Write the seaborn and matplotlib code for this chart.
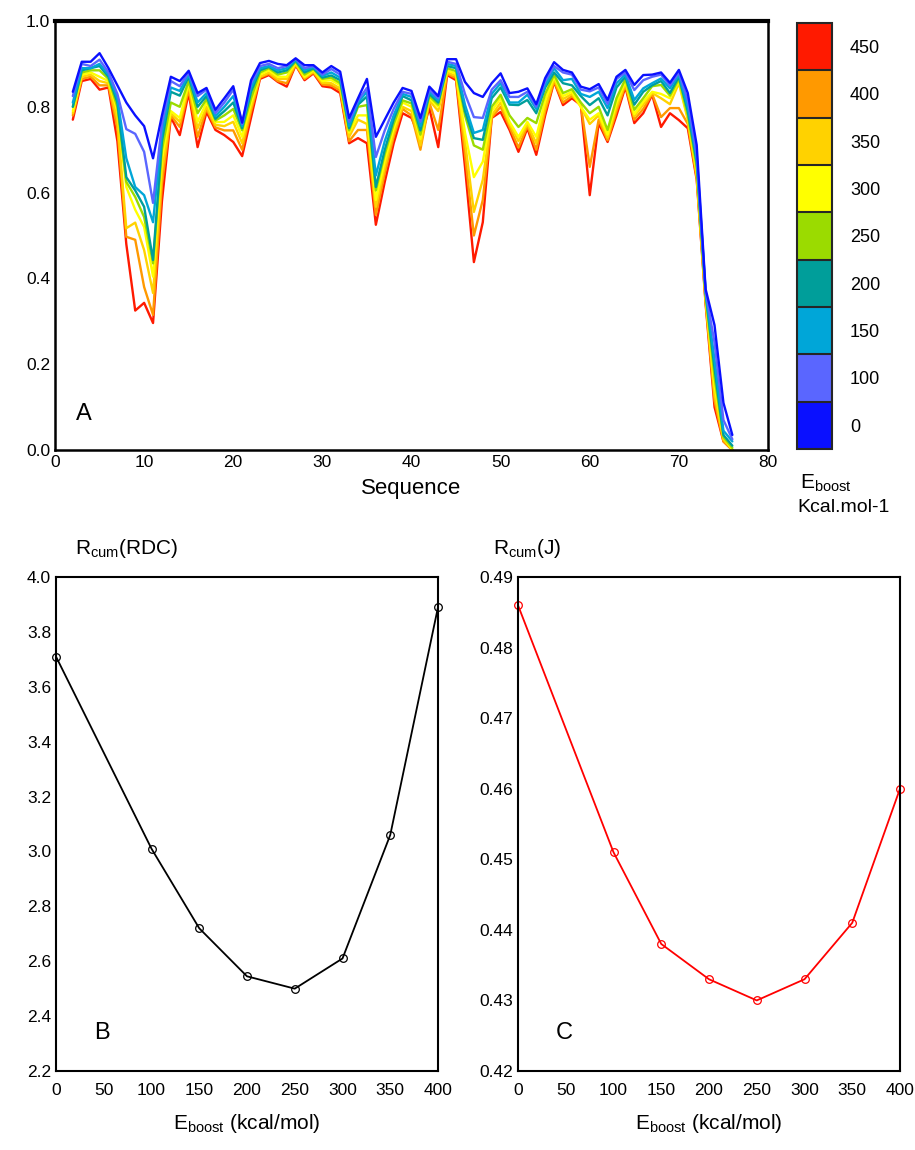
import numpy as np
import pandas as pd
import matplotlib
matplotlib.use('Agg')
import matplotlib.pyplot as plt
import seaborn as sns
from matplotlib.colors import ListedColormap, BoundaryNorm
from matplotlib.cm import ScalarMappable
from matplotlib.ticker import MultipleLocator

# ---- data ----
residues = list(range(2, 77))

e0 = [0.835, 0.905, 0.905, 0.925, 0.89, 0.85, 0.81, 0.78, 0.755, 0.68,
      0.78, 0.87, 0.86, 0.884, 0.832, 0.844, 0.793, 0.82, 0.848, 0.763,
      0.862, 0.902, 0.907, 0.90, 0.897, 0.913, 0.897, 0.897, 0.88, 0.895,
      0.882, 0.774, 0.82, 0.865, 0.73, 0.77, 0.81, 0.844, 0.837, 0.774,
      0.847, 0.825, 0.911, 0.911, 0.858, 0.832, 0.823, 0.855, 0.878, 0.832,
      0.835, 0.843, 0.806, 0.867, 0.904, 0.886, 0.88, 0.847, 0.841, 0.853,
      0.816, 0.87, 0.886, 0.851, 0.874, 0.875, 0.88, 0.856, 0.886, 0.832,
      0.711, 0.375, 0.291, 0.11, 0.035]
e100 = [0.825, 0.90, 0.895, 0.91, 0.88, 0.83, 0.748, 0.737, 0.695, 0.576,
        0.76, 0.86, 0.848, 0.88, 0.825, 0.84, 0.785, 0.81, 0.84, 0.76,
        0.855, 0.895, 0.90, 0.89, 0.895, 0.912, 0.89, 0.895, 0.875, 0.888,
        0.875, 0.765, 0.815, 0.844, 0.683, 0.745, 0.795, 0.835, 0.83, 0.765,
        0.84, 0.82, 0.905, 0.90, 0.83, 0.776, 0.774, 0.84, 0.862, 0.823,
        0.823, 0.835, 0.80, 0.86, 0.895, 0.88, 0.875, 0.84, 0.836, 0.845,
        0.807, 0.865, 0.88, 0.839, 0.862, 0.87, 0.875, 0.85, 0.88, 0.815,
        0.69, 0.37, 0.25, 0.07, 0.025]
e150 = [0.81, 0.89, 0.89, 0.90, 0.875, 0.82, 0.68, 0.613, 0.594, 0.531,
        0.74, 0.845, 0.837, 0.875, 0.81, 0.832, 0.778, 0.80, 0.825, 0.755,
        0.845, 0.89, 0.895, 0.885, 0.89, 0.91, 0.885, 0.893, 0.872, 0.88,
        0.868, 0.755, 0.81, 0.835, 0.64, 0.72, 0.78, 0.83, 0.823, 0.755,
        0.835, 0.815, 0.90, 0.895, 0.805, 0.739, 0.746, 0.83, 0.855, 0.81,
        0.81, 0.828, 0.795, 0.85, 0.89, 0.862, 0.865, 0.83, 0.823, 0.835,
        0.797, 0.855, 0.875, 0.816, 0.843, 0.855, 0.866, 0.843, 0.875, 0.80,
        0.68, 0.37, 0.21, 0.045, 0.02]
e200 = [0.80, 0.885, 0.89, 0.895, 0.87, 0.81, 0.636, 0.605, 0.567, 0.443,
        0.72, 0.835, 0.826, 0.87, 0.80, 0.825, 0.772, 0.79, 0.81, 0.75,
        0.835, 0.885, 0.893, 0.88, 0.885, 0.908, 0.88, 0.89, 0.868, 0.873,
        0.862, 0.75, 0.805, 0.824, 0.613, 0.70, 0.77, 0.825, 0.815, 0.745,
        0.83, 0.81, 0.895, 0.89, 0.79, 0.727, 0.723, 0.82, 0.845, 0.805,
        0.804, 0.816, 0.785, 0.845, 0.88, 0.855, 0.85, 0.825, 0.804, 0.82,
        0.78, 0.845, 0.87, 0.805, 0.835, 0.85, 0.86, 0.832, 0.87, 0.79,
        0.67, 0.365, 0.19, 0.035, 0.01]
e250 = [0.80, 0.88, 0.885, 0.885, 0.865, 0.80, 0.625, 0.59, 0.543, 0.435,
        0.70, 0.81, 0.80, 0.86, 0.785, 0.818, 0.768, 0.78, 0.795, 0.745,
        0.82, 0.88, 0.89, 0.875, 0.88, 0.905, 0.875, 0.888, 0.865, 0.868,
        0.855, 0.745, 0.80, 0.804, 0.605, 0.69, 0.76, 0.815, 0.808, 0.735,
        0.825, 0.805, 0.89, 0.883, 0.78, 0.71, 0.70, 0.80, 0.828, 0.78,
        0.753, 0.774, 0.762, 0.83, 0.875, 0.832, 0.841, 0.81, 0.785, 0.80,
        0.746, 0.82, 0.865, 0.793, 0.82, 0.848, 0.851, 0.826, 0.865, 0.78,
        0.66, 0.36, 0.17, 0.03, 0.005]
e300 = [0.79, 0.875, 0.88, 0.87, 0.86, 0.79, 0.613, 0.56, 0.52, 0.404,
        0.68, 0.79, 0.774, 0.855, 0.765, 0.81, 0.764, 0.765, 0.78, 0.73,
        0.81, 0.875, 0.885, 0.87, 0.87, 0.903, 0.87, 0.885, 0.86, 0.862,
        0.85, 0.74, 0.78, 0.78, 0.583, 0.675, 0.75, 0.81, 0.80, 0.725,
        0.82, 0.80, 0.885, 0.877, 0.74, 0.636, 0.672, 0.79, 0.82, 0.765,
        0.73, 0.765, 0.73, 0.815, 0.87, 0.825, 0.835, 0.80, 0.77, 0.785,
        0.735, 0.81, 0.86, 0.783, 0.812, 0.835, 0.83, 0.82, 0.86, 0.775,
        0.65, 0.355, 0.15, 0.03, 0.0]
e350 = [0.785, 0.87, 0.875, 0.86, 0.855, 0.77, 0.517, 0.53, 0.466, 0.366,
        0.65, 0.785, 0.765, 0.85, 0.75, 0.80, 0.758, 0.755, 0.765, 0.715,
        0.80, 0.87, 0.88, 0.865, 0.865, 0.90, 0.868, 0.882, 0.856, 0.855,
        0.843, 0.73, 0.77, 0.76, 0.567, 0.66, 0.74, 0.80, 0.79, 0.71,
        0.815, 0.79, 0.88, 0.872, 0.72, 0.555, 0.63, 0.78, 0.81, 0.76,
        0.72, 0.76, 0.715, 0.80, 0.865, 0.818, 0.83, 0.80, 0.76, 0.78,
        0.728, 0.80, 0.855, 0.778, 0.805, 0.832, 0.82, 0.806, 0.855, 0.77,
        0.64, 0.35, 0.13, 0.025, 0.0]
e400 = [0.78, 0.865, 0.87, 0.85, 0.85, 0.75, 0.497, 0.49, 0.38, 0.315,
        0.62, 0.78, 0.753, 0.84, 0.73, 0.795, 0.752, 0.745, 0.745, 0.70,
        0.79, 0.868, 0.877, 0.86, 0.855, 0.898, 0.865, 0.88, 0.852, 0.85,
        0.838, 0.72, 0.746, 0.746, 0.548, 0.645, 0.73, 0.795, 0.78, 0.70,
        0.81, 0.746, 0.877, 0.867, 0.69, 0.50, 0.583, 0.775, 0.80, 0.753,
        0.705, 0.755, 0.70, 0.79, 0.86, 0.81, 0.825, 0.805, 0.66, 0.77,
        0.722, 0.79, 0.85, 0.77, 0.795, 0.83, 0.776, 0.797, 0.797, 0.76,
        0.635, 0.345, 0.115, 0.02, 0.0]
e450 = [0.77, 0.86, 0.865, 0.84, 0.845, 0.72, 0.48, 0.325, 0.343, 0.296,
        0.58, 0.776, 0.734, 0.832, 0.706, 0.788, 0.746, 0.734, 0.718, 0.685,
        0.775, 0.865, 0.874, 0.858, 0.847, 0.897, 0.862, 0.878, 0.848, 0.845,
        0.832, 0.715, 0.727, 0.715, 0.525, 0.625, 0.715, 0.785, 0.774, 0.725,
        0.797, 0.706, 0.874, 0.862, 0.66, 0.438, 0.531, 0.774, 0.788, 0.746,
        0.695, 0.75, 0.688, 0.78, 0.858, 0.804, 0.82, 0.804, 0.594, 0.762,
        0.718, 0.78, 0.846, 0.762, 0.785, 0.828, 0.753, 0.785, 0.769, 0.75,
        0.63, 0.34, 0.10, 0.02, 0.0]

boost_levels = [0, 100, 150, 200, 250, 300, 350, 400, 450]
level_colors = ['#0A10FF', '#5A66FF', '#00A6D8', '#009E9A', '#9BDB00',
                '#FFFF00', '#FFD200', '#FF9900', '#FF1A00']

eboost = [0, 100, 150, 200, 250, 300, 350, 400]
rcum_rdc = [3.71, 3.01, 2.72, 2.545, 2.50, 2.61, 3.06, 3.89]
rcum_j = [0.486, 0.451, 0.438, 0.433, 0.430, 0.433, 0.441, 0.460]

series = [e0, e100, e150, e200, e250, e300, e350, e400, e450]
df = pd.concat([pd.DataFrame({'residue': residues, 'S2': s, 'E': lvl})
                for s, lvl in zip(series, boost_levels)], ignore_index=True)

sns.set_style('white')
plt.rcParams['font.family'] = ['Liberation Sans', 'DejaVu Sans']
plt.rcParams['mathtext.fontset'] = 'custom'
plt.rcParams['mathtext.rm'] = 'Liberation Sans'
plt.rcParams['mathtext.it'] = 'Liberation Sans'
for key in ['text.color', 'axes.labelcolor', 'xtick.color', 'ytick.color']:
    plt.rcParams[key] = 'black'

W, H = 915, 1150
fig = plt.figure(figsize=(W / 100, H / 100), dpi=100)


def box(l, t, r, b):
    return [l / W, 1 - b / H, (r - l) / W, (b - t) / H]


# ---- panel A ----
axA = fig.add_axes(box(55, 21, 768, 450))
pal = dict(zip(boost_levels, level_colors))
sns.lineplot(data=df, x='residue', y='S2', hue='E', hue_order=boost_levels[::-1],
             palette=pal, legend=False, linewidth=1.7, ax=axA)
axA.set_xlim(0, 80)
axA.set_ylim(0, 1.0)
axA.xaxis.set_major_locator(MultipleLocator(10))
axA.xaxis.set_minor_locator(MultipleLocator(2))
axA.yaxis.set_minor_locator(MultipleLocator(0.05))
axA.set_yticks(np.arange(0, 1.01, 0.2))
axA.set_yticklabels(['%.1f' % v for v in np.arange(0, 1.01, 0.2)])
axA.tick_params(which='both', direction='in', labelsize=12.5, top=False, right=False)
axA.tick_params(which='major', length=5, width=1)
axA.tick_params(which='minor', length=3, width=0.8)
axA.set_xlabel('Sequence', fontsize=16, labelpad=6)
axA.set_ylabel('')
for s in axA.spines.values():
    s.set_linewidth(1.8)
    s.set_color('black')
axA.spines['top'].set_linewidth(3)
axA.text(0.03, 0.07, 'A', transform=axA.transAxes, fontsize=17)

# colorbar
cax = fig.add_axes(box(797, 23, 832, 449))
cmap = ListedColormap(level_colors)
norm = BoundaryNorm(np.arange(len(boost_levels) + 1), len(boost_levels))
cb = fig.colorbar(ScalarMappable(norm=norm, cmap=cmap), cax=cax, drawedges=True)
cb.set_ticks(np.arange(len(boost_levels)) + 0.5)
cb.set_ticklabels([str(v) for v in boost_levels])
cb.ax.minorticks_off()
cb.ax.tick_params(which='both', length=0, labelsize=13, pad=13)
cb.outline.set_linewidth(1.5)
cb.dividers.set_linewidth(1.5)
fig.text(800 / W, 1 - 483 / H, r'E$_{\mathregular{boost}}$', fontsize=15, va='center')
fig.text(797 / W, 1 - 508 / H, 'Kcal.mol-1', fontsize=14, va='center')


# ---- panels B and C ----
def side_panel(rect, y, color, ylim, ymajor, yminor, fmt, letter):
    ax = fig.add_axes(rect)
    sns.lineplot(x=eboost, y=y, color=color, marker='o', markersize=5.5,
                 markerfacecolor='none', markeredgecolor=color, markeredgewidth=0.9,
                 linewidth=1.3, ax=ax, clip_on=False)
    ax.set_xlim(0, 400)
    ax.set_ylim(*ylim)
    ax.xaxis.set_major_locator(MultipleLocator(50))
    ax.xaxis.set_minor_locator(MultipleLocator(12.5))
    ax.yaxis.set_minor_locator(MultipleLocator(yminor))
    ticks = np.arange(ylim[0], ylim[1] + ymajor / 2, ymajor)
    ax.set_yticks(ticks)
    ax.set_yticklabels([fmt % v for v in ticks])
    ax.tick_params(which='both', labelsize=12.5, top=False, right=False)
    ax.tick_params(axis='y', which='both', direction='in')
    ax.tick_params(axis='x', which='major', direction='out', length=5)
    ax.tick_params(axis='x', which='minor', direction='in', length=3)
    ax.tick_params(axis='y', which='major', length=5)
    ax.tick_params(axis='y', which='minor', length=3)
    ax.set_xlabel(r'E$_{\mathregular{boost}}$ (kcal/mol)', fontsize=15, labelpad=10)
    for s in ax.spines.values():
        s.set_linewidth(1.5)
        s.set_color('black')
    ax.text(0.1, 0.065, letter, transform=ax.transAxes, fontsize=17)
    return ax


axB = side_panel(box(56, 577, 438, 1071), rcum_rdc, 'black', (2.2, 4.0), 0.2, 0.1, '%.1f', 'B')
axC = side_panel(box(518, 577, 900, 1071), rcum_j, '#FF0000', (0.42, 0.49), 0.01, 0.005, '%.2f', 'C')

fig.text(75 / W, 1 - 549 / H, r'R$_{\mathregular{cum}}$(RDC)', fontsize=15, va='center')
fig.text(493 / W, 1 - 549 / H, r'R$_{\mathregular{cum}}$(J)', fontsize=15, va='center')

fig.savefig('out.png', dpi=100)
